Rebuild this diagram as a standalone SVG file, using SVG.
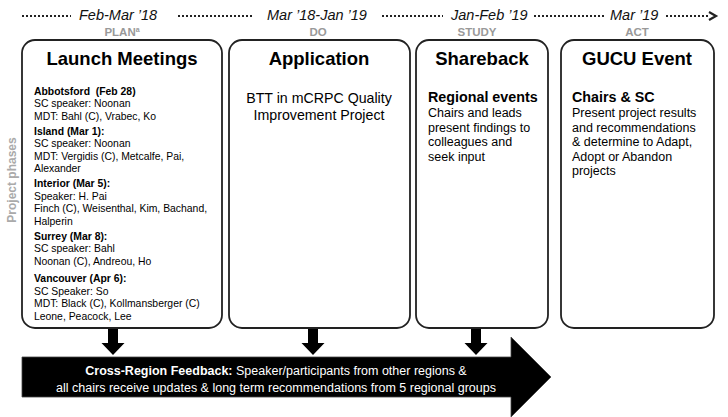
<svg xmlns="http://www.w3.org/2000/svg" width="728" height="417" viewBox="0 0 728 417">
<style>
text{font-family:"Liberation Sans",Arial,sans-serif;}
.tl{font-size:14.5px;font-style:italic;fill:#111;}
.ph{font-size:11.5px;font-weight:bold;fill:#999;text-anchor:middle;}
.box{fill:#fff;stroke:#222;stroke-width:1.8;}
.title{font-size:18.5px;font-weight:bold;fill:#000;text-anchor:middle;}
.sm{font-size:10.4px;fill:#000;}
.smb{font-size:10.4px;fill:#000;font-weight:bold;}
.md{font-size:12.5px;fill:#000;}
.mdb{font-size:14.3px;fill:#000;font-weight:bold;}
.dot{stroke:#222;stroke-width:2;stroke-dasharray:2 2;fill:none;}
.wt{font-size:12.5px;fill:#fff;text-anchor:middle;}
</style>
<rect width="728" height="417" fill="#fff"/>
<g id="timeline">
<line class="dot" x1="22" y1="16" x2="71" y2="16"/>
<line class="dot" x1="178" y1="16" x2="253" y2="16"/>
<line class="dot" x1="382" y1="16" x2="443" y2="16"/>
<line class="dot" x1="534" y1="16" x2="605" y2="16"/>
<line class="dot" x1="666" y1="16" x2="708" y2="16"/>
<polyline points="709,12 716,16 709,20" fill="none" stroke="#222" stroke-width="2.2"/>
<text class="tl" x="79" y="20">Feb-Mar ’18</text>
<text class="tl" x="267" y="20">Mar ’18-Jan ’19</text>
<text class="tl" x="451" y="20">Jan-Feb ’19</text>
<text class="tl" x="610" y="20">Mar ’19</text>
<text class="ph" x="122" y="36">PLAN<tspan font-size="7" dy="-4">a</tspan></text>
<text class="ph" x="318" y="36">DO</text>
<text class="ph" x="477" y="36">STUDY</text>
<text class="ph" x="637" y="36">ACT</text>
<text transform="translate(16,180) rotate(-90)" font-size="12px" font-weight="bold" fill="#aaa" text-anchor="middle">Project phases</text>
</g>
<g id="launch">
<rect class="box" x="22" y="40" width="200" height="288" rx="13"/>
<text class="title" x="122" y="65">Launch Meetings</text>
<text class="smb" x="34" y="95">Abbotsford&#160; (Feb 28)</text>
<text class="sm" x="34" y="107">SC speaker: Noonan</text>
<text class="sm" x="34" y="119.5">MDT: Bahl (C), Vrabec, Ko</text>
<text class="smb" x="34" y="134.5">Island (Mar 1):</text>
<text class="sm" x="34" y="147">SC speaker: Noonan</text>
<text class="sm" x="34" y="159.5">MDT: Vergidis (C), Metcalfe, Pai,</text>
<text class="sm" x="34" y="172">Alexander</text>
<text class="smb" x="34" y="187">Interior (Mar 5):</text>
<text class="sm" x="34" y="199.5">Speaker: H. Pai</text>
<text class="sm" x="34" y="212">Finch (C), Weisenthal, Kim, Bachand,</text>
<text class="sm" x="34" y="224.5">Halperin</text>
<text class="smb" x="34" y="239.5">Surrey (Mar 8):</text>
<text class="sm" x="34" y="252">SC speaker: Bahl</text>
<text class="sm" x="34" y="264.5">Noonan (C), Andreou, Ho</text>
<text class="smb" x="34" y="282">Vancouver (Apr 6):</text>
<text class="sm" x="34" y="294.5">SC Speaker: So</text>
<text class="sm" x="34" y="307">MDT: Black (C), Kollmansberger (C)</text>
<text class="sm" x="34" y="319.5">Leone, Peacock, Lee</text>
</g>
<g id="application">
<rect class="box" x="229" y="40" width="181" height="288" rx="13"/>
<text class="title" x="319" y="65">Application</text>
<text x="319" y="103" font-size="14.2px" text-anchor="middle">BTT in mCRPC Quality</text>
<text x="319" y="120" font-size="14.2px" text-anchor="middle">Improvement Project</text>
</g>
<g id="shareback">
<rect class="box" x="416" y="40" width="132" height="288" rx="13"/>
<text class="title" x="482" y="65">Shareback</text>
<text class="mdb" x="428" y="102">Regional events</text>
<text class="md" x="428" y="117">Chairs and leads</text>
<text class="md" x="428" y="131.5">present findings to</text>
<text class="md" x="428" y="146">colleagues and</text>
<text class="md" x="428" y="160.5">seek input</text>
</g>
<g id="gucu">
<rect class="box" x="561" y="40" width="153" height="288" rx="13"/>
<text class="title" x="637" y="65">GUCU Event</text>
<text class="mdb" x="572" y="102">Chairs &amp; SC</text>
<text class="md" x="572" y="117">Present project results</text>
<text class="md" x="572" y="131.5">and recommendations</text>
<text class="md" x="572" y="146">&amp; determine to Adapt,</text>
<text class="md" x="572" y="160.5">Adopt or Abandon</text>
<text class="md" x="572" y="175">projects</text>
</g>
<g id="connectors" fill="#000">
<polygon points="108,329 118,329 118,343 124.5,343 113,355 101.5,343 108,343"/>
<polygon points="308,329 318,329 318,343 324.5,343 313,355 301.5,343 308,343"/>
<polygon points="471,329 481,329 481,343 487.5,343 476,355 464.5,343 471,343"/>
</g>
<g id="feedback">
<polygon points="22,357 511,357 511,337 551,377 511,417 511,397 22,397" fill="#000" stroke="#444" stroke-width="0.8"/>
<text class="wt" x="276" y="375"><tspan font-weight="bold">Cross-Region Feedback:</tspan> Speaker/participants from other regions &amp;</text>
<text class="wt" x="276" y="392">all chairs receive updates &amp; long term recommendations from 5 regional groups</text>
</g>
</svg>
